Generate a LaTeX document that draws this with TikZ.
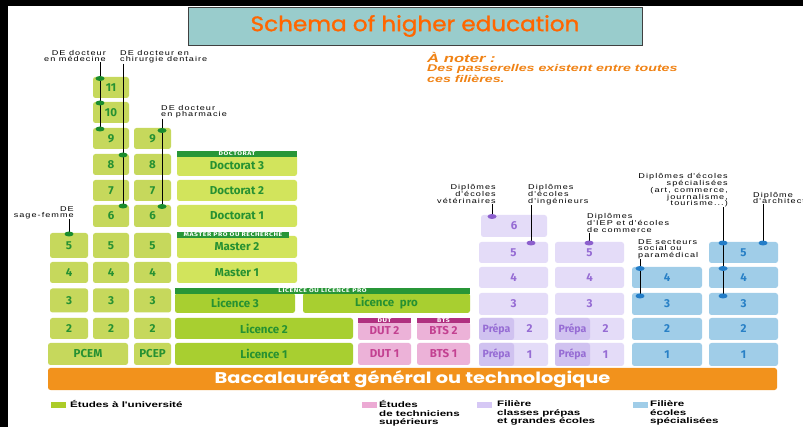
\documentclass[tikz,border=0pt]{standalone}
\usepackage{fontspec}
\setmainfont{Liberation Sans}
\newfontfamily\labfont{Liberation Sans}[FakeStretch=1.3,LetterSpace=15]
\newfontfamily\widefont{Liberation Sans}[FakeStretch=1.45]
\newfontfamily\boxfont{Fira Sans}
\newfontfamily\hdrfont{Fira Sans}[FakeStretch=1.25,LetterSpace=10]
\newfontfamily\bacfont{Poppins}[FakeStretch=1.25]
\newfontfamily\titlefont{Poppins}[FakeStretch=1.1,FakeBold=1.2]

\definecolor{medgreen}{RGB}{198,216,92}
\definecolor{docgreen}{RGB}{210,228,92}
\definecolor{licgreen}{RGB}{168,207,48}
\definecolor{txtgreen}{RGB}{38,145,50}
\definecolor{bargreen}{RGB}{40,150,55}
\definecolor{dotgreen}{RGB}{25,140,45}
\definecolor{techpink}{RGB}{236,178,216}
\definecolor{techtxt}{RGB}{195,65,145}
\definecolor{techbar}{RGB}{176,48,128}
\definecolor{prepalav}{RGB}{228,220,248}
\definecolor{prepadark}{RGB}{208,194,240}
\definecolor{prepatxt}{RGB}{150,108,212}
\definecolor{dotpurple}{RGB}{140,95,205}
\definecolor{ecoleblue}{RGB}{160,205,232}
\definecolor{ecoletxt}{RGB}{40,128,198}
\definecolor{dotblue}{RGB}{35,125,200}
\definecolor{bacorange}{RGB}{242,146,28}
\definecolor{titlebg}{RGB}{153,204,204}
\definecolor{titletxt}{RGB}{255,102,0}
\definecolor{noteorange}{RGB}{240,130,20}
\definecolor{keygreen}{RGB}{172,204,40}
\definecolor{keypink}{RGB}{236,170,212}
\definecolor{keylav}{RGB}{214,200,245}
\definecolor{keyblue}{RGB}{160,205,232}

\begin{document}
\begin{tikzpicture}[x=1pt, y=-1pt,
	dims/.style 2 args = {minimum width=#1pt, minimum height=#2pt},
	box/.style = {rectangle, rounded corners=2.5pt, inner sep=0pt, font=\boxfont\bfseries\fontsize{11.5}{12}\selectfont},
	med/.style = {box, fill=medgreen, text=txtgreen},
	doc/.style = {box, fill=docgreen, text=txtgreen},
	lic/.style = {box, fill=licgreen, text=txtgreen},
	tech/.style = {box, fill=techpink, text=techtxt},
	prepa/.style = {box, fill=prepalav, text=prepatxt},
	prepadk/.style = {box, fill=prepadark, text=prepatxt, font=\boxfont\bfseries\fontsize{10.5}{11}\selectfont},
	ecole/.style = {box, fill=ecoleblue, text=ecoletxt},
	hbar/.style = {rectangle, inner sep=0pt, minimum height=5.5pt, fill=bargreen, text=white, font=\hdrfont\bfseries\fontsize{5.5}{6}\selectfont},
	tag/.style = {inner sep=0pt, font=\labfont\fontsize{7}{6.6}\selectfont},
	link/.style = {draw=black, line width=0.7pt},
	key/.style = {rectangle, inner sep=0pt, minimum width=15pt, minimum height=6pt},
	keytext/.style = {inner sep=0pt, align=left, anchor=north west, font=\widefont\bfseries\fontsize{8}{8.5}\selectfont}
]
\useasboundingbox (0,0) rectangle (803,427);
\clip (0,0) rectangle (803,427);
\fill[white] (0,0) rectangle (803,427);
\fill[black] (0,0) rectangle (803,6);
\fill[black] (0,0) rectangle (8,427);

\node[draw=black!75, line width=0.8pt, fill=titlebg, dims={454}{38}, inner sep=0pt, text=titletxt,
	font=\titlefont\fontsize{21}{24}\selectfont] (title) at (415,26) {Schema of higher education};
\node[inner sep=0pt, align=left, anchor=north west, text=noteorange,
	font=\widefont\bfseries\itshape\fontsize{9.8}{8}\selectfont] (note) at (427,52)
	{{\fontsize{11.5}{11}\selectfont À noter :}\\[1.5pt]Des passerelles existent entre toutes\\ces filières.};

% university
\foreach \n/\y/\hh in {2/328.5/21, 3/300.5/24, 4/272.5/21, 5/245.5/25}
	\node[med, dims={38}{\hh}] (a\n) at (69,\y) {\n};
\foreach \n/\y/\hh in {2/328.5/21, 3/300.5/24, 4/272.5/21, 5/245.5/25, 6/216/22, 7/190.5/21, 8/164.5/21, 9/138.5/21, 10/112.5/21, 11/87.5/21}
	\node[med, dims={36}{\hh}] (b\n) at (111,\y) {\n};
\foreach \n/\y/\hh in {2/328.5/21, 3/300.5/24, 4/272.5/21, 5/245.5/25, 6/216/22, 7/190.5/21, 8/164.5/21, 9/138.5/21}
	\node[med, dims={37}{\hh}] (c\n) at (152.5,\y) {\n};
\node[med, dims={80}{22}] (pcem) at (88,354) {PCEM};
\node[med, dims={37}{22}] (pcep) at (152.5,354) {PCEP};

\node[doc, dims={120}{21}] (doc3) at (237,165.5) {Doctorat 3};
\node[hbar, minimum width=120pt] (hdoc) at (237,154) {DOCTORAT};
\node[doc, dims={120}{21}] (doc2) at (237,190.5) {Doctorat 2};
\node[doc, dims={120}{22}] (doc1) at (237,216) {Doctorat 1};
\node[doc, dims={120}{22}] (mas2) at (237,247) {Master 2};
\node[hbar, minimum width=112pt] (hmas) at (233,235) {MASTER PRO OU RECHERCHE};
\node[doc, dims={120}{21}] (mas1) at (237,272.5) {Master 1};
\node[lic, dims={120}{20}] (lic3) at (235,303) {Licence 3};
\node[lic, dims={167}{20}] (lpro) at (386.5,303) {Licence\enspace pro};
\node[hbar, minimum width=295pt] (hlic) at (322.5,291) {LICENCE OU LICENCE\enspace PRO};
\node[lic, dims={178}{21}] (lic2) at (264,328.5) {Licence 2};
\node[lic, dims={178}{22}] (lic1) at (264,354) {Licence 1};

% techniciens
\node[tech, dims={53}{18}] (dut2) at (384.5,331) {DUT 2};
\node[hbar, fill=techbar, minimum width=53pt] (hdut) at (384.5,320.5) {DUT};
\node[tech, dims={53}{18}] (bts2) at (443.5,331) {BTS 2};
\node[hbar, fill=techbar, minimum width=53pt] (hbts) at (443.5,320.5) {BTS};
\node[tech, dims={53}{22}] (dut1) at (384.5,354) {DUT 1};
\node[tech, dims={53}{22}] (bts1) at (443.5,354) {BTS 1};

% prepas
\node[prepa, dims={66}{22}] (pa6) at (514,226) {6};
\foreach \n/\y/\hh in {3/304/22, 4/277.5/21, 5/252.5/21} {
	\node[prepa, dims={69}{\hh}] (pa\n) at (513.5,\y) {\n};
	\node[prepa, dims={69}{\hh}] (pb\n) at (589.5,\y) {\n};
}
\foreach \n/\y/\hh in {1/354.5/23, 2/329/22} {
	\node[prepa, dims={69}{\hh}] (pa\n) at (513.5,\y) {};
	\node[prepadk, dims={35}{\hh}, anchor=west] (qa\n) at (pa\n.west) {Prépa};
	\node[prepa, fill=none] (na\n) at (529.5,\y) {\n};
	\node[prepa, dims={69}{\hh}] (pb\n) at (589.5,\y) {};
	\node[prepadk, dims={35}{\hh}, anchor=west] (qb\n) at (pb\n.west) {Prépa};
	\node[prepa, fill=none] (nb\n) at (605.5,\y) {\n};
}

% ecoles specialisees
\foreach \n/\y/\hh in {1/354.5/23, 2/329/22, 3/304/22, 4/277.5/21}
	\node[ecole, dims={70}{\hh}] (sa\n) at (667,\y) {\n};
\foreach \n/\y/\hh in {1/354.5/23, 2/329/22, 3/304/22, 4/277.5/21, 5/252.5/21}
	\node[ecole, dims={69}{\hh}] (sb\n) at (743.5,\y) {\n};

\node[box, fill=bacorange, text=white, dims={729}{22}, font=\bacfont\bfseries\fontsize{15.5}{16}\selectfont] (bac) at (412.5,379) {Baccalauréat général ou technologique};

% diplomas
\node[tag, align=right, anchor=north east] (tmed) at (106,50) {DE docteur\\en médecine};
\node[tag, align=left, anchor=north west] (tdent) at (120,50) {DE docteur en\\chirurgie dentaire};
\node[tag, align=left, anchor=north west] (tpha) at (161,105) {DE docteur\\en pharmacie};
\node[tag, align=right, anchor=north east] (tsage) at (74,206) {DE\\sage-femme};
\node[tag, align=right, anchor=north east] (tvet) at (496,184) {Diplômes\\d'écoles\\vétérinaires};
\node[tag, align=left, anchor=north west] (ting) at (528,184) {Diplômes\\d'écoles\\d'ingénieurs};
\node[tag, align=left, anchor=north west] (tiep) at (587,213) {Diplômes\\d'IEP et d'écoles\\de commerce};
\node[tag, align=left, anchor=north west] (tsoc) at (638,239) {DE secteurs\\social ou\\paramédical};
\node[tag, align=right, anchor=north east] (tspe) at (728,173) {Diplômes d'écoles\\spécialisées\\(art, commerce,\\journalisme,\\tourisme...)};
\node[tag, align=left, anchor=north west] (tarc) at (753,192) {Diplôme\\d'architecte};

\coordinate (cm11) at (100,78.5);
\coordinate (cm10) at (100,103);
\coordinate (cm9) at (100,129);
\coordinate (cd8) at (123,155);
\coordinate (cd6) at (123,206);
\coordinate (cp9) at (162,130.5);
\coordinate (cp6) at (162,206.5);
\coordinate (csf5) at (69,234);
\coordinate (cv6) at (492,216.5);
\coordinate (ci5) at (531,243);
\coordinate (ce5) at (589,243);
\coordinate (cso4) at (640,268.5);
\coordinate (cso3) at (640,296);
\coordinate (cx5) at (723,243);
\coordinate (cx4) at (723,268.5);
\coordinate (cx3) at (723,296);
\coordinate (ca5) at (763,243);

\draw[link] (tmed.south -| cm9) -- (cm9);
\draw[link] (tdent.south -| cd6) -- (cd6);
\draw[link] (tpha.south -| cp6) -- (cp6);
\draw[link] (tsage.south -| csf5) -- (csf5);
\draw[link] (tvet.south -| cv6) -- (cv6);
\draw[link] (ting.south -| ci5) -- (ci5);
\draw[link] (tiep.south -| ce5) -- (ce5);
\draw[link] (tsoc.south -| cso3) -- (cso3);
\draw[link] (tspe.south -| cx3) -- (cx3);
\draw[link] (tarc.south -| ca5) -- (ca5);

\foreach \c in {cm11,cm10,cm9,cd8,cd6,cp9,cp6,csf5}
	\fill[dotgreen] (\c) ellipse [x radius=4.5pt, y radius=2.5pt];
\foreach \c in {cv6,ci5,ce5}
	\fill[dotpurple] (\c) ellipse [x radius=4.5pt, y radius=2.5pt];
\foreach \c in {cso4,cso3,cx5,cx4,cx3,ca5}
	\fill[dotblue] (\c) ellipse [x radius=4.5pt, y radius=2.5pt];

% legend
\node[key, fill=keygreen] (kuni) at (58.5,405) {};
\node[keytext] (tuni) at (70,400.5) {Études à l'université};
\node[key, fill=keypink] (ktech) at (369.5,405) {};
\node[keytext] (ttech) at (379,400.5) {Études\\de techniciens\\supérieurs};
\node[key, fill=keylav] (kprep) at (484.5,405) {};
\node[keytext] (tprep) at (497,400.5) {Filière\\classes prépas\\et grandes écoles};
\node[key, fill=keyblue] (kecol) at (640.5,405) {};
\node[keytext] (tecol) at (650,400.5) {Filière\\écoles\\spécialisées};
\end{tikzpicture}
\end{document}
